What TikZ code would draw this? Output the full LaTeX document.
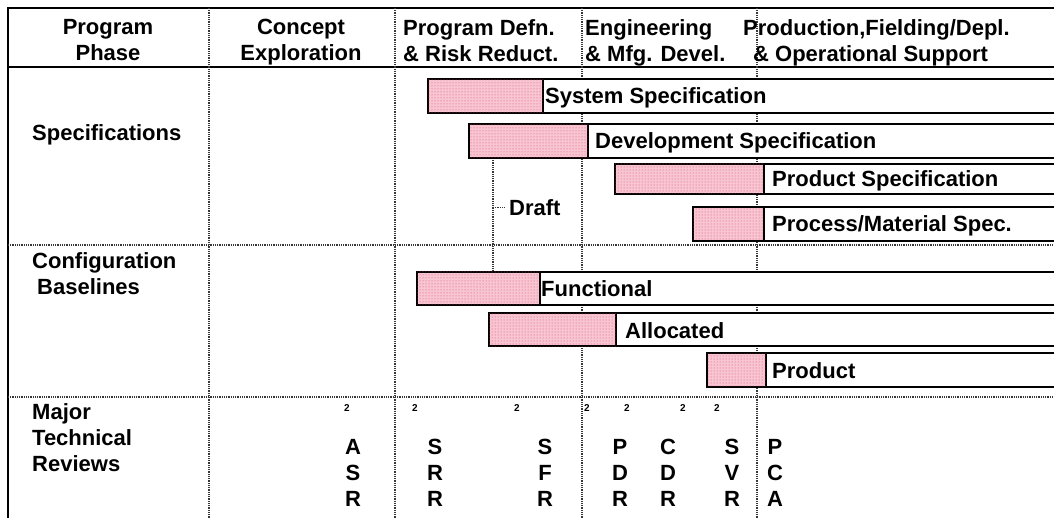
\documentclass[tikz,border=0pt]{standalone}
\usepackage{fontspec}
\setmainfont{Liberation Sans}
\usetikzlibrary{patterns}
\definecolor{barpink}{RGB}{248,198,210}
\definecolor{dotred}{RGB}{222,70,110}
\definecolor{griddark}{RGB}{55,55,55}

\begin{document}
\begin{tikzpicture}[x=1pt, y=-1pt,
  every node/.style={font=\fontsize{22}{26}\selectfont\bfseries, inner sep=0pt},
  solidline/.style={line width=2pt},
  gridline/.style={griddark, line width=1.5pt, dash pattern=on 1pt off 0.8pt},
  barframe/.style={draw, fill=white, line width=2pt},
  barfill/.style={draw, line width=2pt, fill=barpink,
    postaction={pattern=dots, pattern color=dotred}},
  barlabel/.style={anchor=west, text height=16pt, text depth=0pt},
  colhead/.style={anchor=north, align=center},
  rowhead/.style={anchor=north west, align=left},
  revtext/.style={anchor=north, align=center},
  supmark/.style={font=\fontsize{10}{12}\selectfont\bfseries}]
  \useasboundingbox (0,0) rectangle (1054,518);
  \clip (0,0) rectangle (1054,518);
  % frame and grid
  \draw[solidline] (1054,8) -- (8,8) -- (8,518);
  \draw[solidline] (8,67) -- (1054,67);
  \foreach \y in {245,397} \draw[gridline] (8,\y) -- (1054,\y);
  \foreach \x in {209,395,582,757} \draw[gridline] (\x,8) -- (\x,518);
  % draft line
  \coordinate (drafttop) at (493,158);
  \coordinate (draftbot) at (493,272);
  \coordinate (draftpt) at (493,208);
  \draw[gridline] (drafttop) -- (draftbot);

  % bars
  \foreach \xa/\xb/\ya/\yb in {428/543/79/113, 469/588/124/158, 615/764/164/194,
      693/764/207/241, 417/540/272/305, 489/616/313/346, 707/766/353/387}{
    \draw[barframe] (\xa,\ya) rectangle (1070,\yb);
    \draw[barfill] (\xa,\ya) rectangle (\xb,\yb);
  }

  % column heads
  \node[colhead] (phase) at (108,19) {Program\\Phase};
  \node[colhead] (concept) at (301,19) {Concept\\Exploration};
  \node[rowhead] (pdrr) at (403,19) {Program Defn.\\\& Risk Reduct.};
  \node[rowhead] (emd) at (585,19) {Engineering\\\& Mfg. Devel.};
  \node[rowhead] (pfds) at (743,19) {Production,Fielding/Depl.\\\hspace*{10pt}\& Operational Support};

  % row heads
  \node[barlabel] (specs) at (32,133) {Specifications};
  \node[rowhead] (config) at (32,252) {Configuration\\\hspace*{5pt}Baselines};
  \node[rowhead] (mtr) at (32,403) {Major\\Technical\\Reviews};

  % bar labels
  \node[barlabel] (sysspec) at (545,96) {System Specification};
  \node[barlabel] (devspec) at (595,141) {Development Specification};
  \node[barlabel] (prodspec) at (772,179) {Product Specification};
  \node[barlabel] (procspec) at (772,224) {Process/Material Spec.};
  \node[barlabel] (funct) at (541,289) {Functional};
  \node[barlabel] (alloc) at (625,330) {Allocated};
  \node[barlabel] (prodbl) at (772,370) {Product};
  \node[barlabel] (draft) at (509,208) {Draft};
  \draw[gridline, line width=1pt] (draftpt) -- ([xshift=-4pt]draft.west);

  % reviews
  \foreach \x [count=\i] in {347,415,517,587,627,683,717}
    \node[supmark] (sup\i) at (\x,408) {2};
  \foreach \x/\txt/\nm in {353/{A\\S\\R}/asr, 435/{S\\R\\R}/srr, 545/{S\\F\\R}/sfr,
      620/{P\\D\\R}/pdr, 668/{C\\D\\R}/cdr, 732/{S\\V\\R}/svr, 775/{P\\C\\A}/pca}
    \node[revtext] (\nm) at (\x,439) {\txt};
\end{tikzpicture}
\end{document}
